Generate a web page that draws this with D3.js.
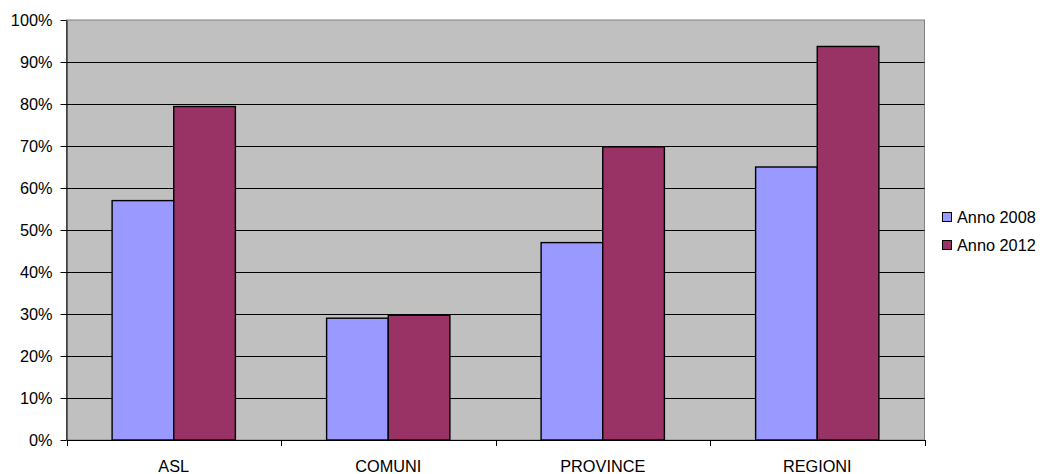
<!DOCTYPE html>
<html><head><meta charset="utf-8">
<script src="https://cdn.jsdelivr.net/npm/d3@7"></script>
<style>body{margin:0;background:#fff}svg{display:block;font-family:"Liberation Sans",Arial,sans-serif}</style>
</head><body>
<svg id="c" width="1040" height="474"></svg>
<script>
const categories = ["ASL", "COMUNI", "PROVINCE", "REGIONI"];
const seriesNames = ["Anno 2008", "Anno 2012"];
const values2008 = [57, 29, 47, 65];
const values2012 = [79.4, 29.7, 69.8, 93.7];
const colors = ["#9999FF", "#993366"];
const tickValues = [0,10,20,30,40,50,60,70,80,90,100];

const FS = 16.3;
const svg = d3.select("#c");
const L = 66.5, R = 924.5, T = 20, B = 440;
const x = d3.scaleBand().domain(categories).range([L, R]).paddingInner(0).paddingOuter(0);
const y = d3.scaleLinear().domain([0, 100]).range([B, T]);
const xs = d3.scaleBand().domain(seriesNames).range([0, x.bandwidth()]).paddingInner(0).paddingOuter(0.74);

svg.append("rect").attr("x", L).attr("y", T).attr("width", R - L).attr("height", B - T)
  .attr("fill", "#C0C0C0").attr("stroke", "#808080").attr("stroke-width", 1);

svg.append("g").selectAll("line").data(tickValues.filter(d => d > 0 && d < 100)).join("line")
  .attr("x1", L).attr("x2", R).attr("y1", d => Math.round(y(d)) + 0.5).attr("y2", d => Math.round(y(d)) + 0.5)
  .attr("stroke", "#000").attr("stroke-width", 1);

const data = [values2008, values2012];
seriesNames.forEach((s, si) => {
  svg.append("g").selectAll("rect").data(categories).join("rect")
    .attr("x", c => x(c) + xs(s))
    .attr("y", (c, i) => y(data[si][i]))
    .attr("width", xs.bandwidth())
    .attr("height", (c, i) => B - y(data[si][i]))
    .attr("fill", colors[si]).attr("stroke", "#000").attr("stroke-width", 1.4);
});

const yAxis = svg.append("g").attr("transform", `translate(${L},0)`)
  .call(d3.axisLeft(y).tickValues(tickValues).tickFormat(d => d + "%").tickSize(6).tickSizeOuter(0));
yAxis.select(".domain").attr("stroke", "#000");
yAxis.selectAll("text").attr("font-size", FS).attr("fill", "#000").attr("x", -14).attr("dy", "0.36em")
  .attr("font-family", "Liberation Sans, Arial, sans-serif");

const xAxis = svg.append("g").attr("transform", `translate(0,${B})`)
  .call(d3.axisBottom(x).tickSize(0).tickSizeOuter(0));
xAxis.select(".domain").attr("stroke", "#000");
xAxis.selectAll("text").attr("font-size", FS).attr("fill", "#000").attr("dy", 0).attr("y", 31.5)
  .attr("font-family", "Liberation Sans, Arial, sans-serif");
const bounds = categories.map(c => x(c)).concat([x(categories[categories.length-1]) + x.bandwidth()]);
svg.append("g").selectAll("line").data(bounds).join("line")
  .attr("x1", d => Math.round(d) + 0.5).attr("x2", d => Math.round(d) + 0.5)
  .attr("y1", B).attr("y2", B + 6).attr("stroke", "#000");

const leg = svg.append("g");
seriesNames.forEach((s, i) => {
  const g = leg.append("g").attr("transform", `translate(942.5,${212.5 + i * 28})`);
  g.append("rect").attr("x", 0).attr("y", 0).attr("width", 9).attr("height", 9)
    .attr("fill", colors[i]).attr("stroke", "#000").attr("stroke-width", 1);
  g.append("text").attr("x", 14.5).attr("y", 4.5).attr("dy", "0.36em").attr("font-size", FS).text(s);
});
</script>
</body></html>
